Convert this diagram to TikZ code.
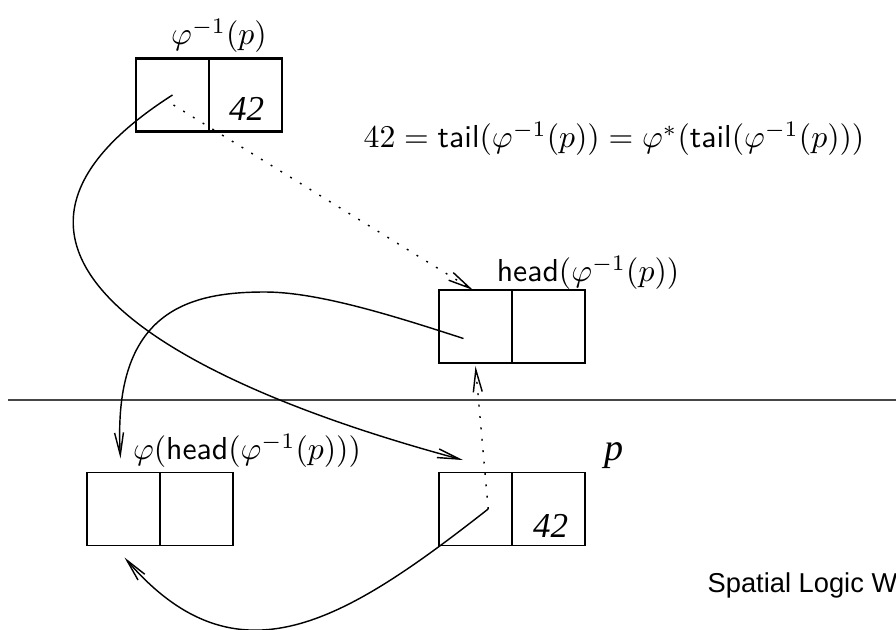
\documentclass[tikz,border=0pt]{standalone}
\usepackage{fontspec}
\newfontfamily\footfont{Liberation Sans}
\newfontfamily\numfont{Liberation Serif}
\usepackage{amsmath}
\usepackage{tikz}
\usetikzlibrary{arrows.meta,positioning}
\definecolor{sepgray}{RGB}{70,70,70}
\tikzset{
  cell/.style={draw, minimum size=23pt, inner sep=0pt, outer sep=0pt, line width=0.45pt},
  topcell/.style={cell, line width=0.65pt},
  lbl/.style={inner sep=0pt, font=\normalsize},
  num/.style={inner sep=0pt, font=\numfont\fontsize{11}{13}\selectfont\itshape},
  ptr/.style={-{Straight Barb[length=7pt,width=2.8pt]}, line width=0.45pt},
  dotptr/.style={ptr, dash pattern=on 0.6pt off 3pt}
}

\begin{document}
\begin{tikzpicture}[x=0.315pt, y=-0.315pt, node distance=0pt]
\useasboundingbox (0,0) rectangle (896,630);

% cells
\node[topcell] (inv-l) at (172.5,95) {};
\node[topcell, right=of inv-l] (inv-r) {};
\node[cell] (hd-l) at (475.5,326.5) {};
\node[cell, right=of hd-l] (hd-r) {};
\node[cell] (img-l) at (123.5,509) {};
\node[cell, right=of img-l] (img-r) {};
\node[cell] (p-l) at (475.5,509) {};
\node[cell, right=of p-l] (p-r) {};

\node[num] (inv-num) at ([shift={(1,14)}]inv-r.center) {42};
\node[num] (p-num) at ([shift={(2,17)}]p-r.center) {42};

% labels
\node[lbl] (inv-lbl) at (219,36) {$\varphi^{-1}(p)$};
\node[lbl] (eq) at (614,139) {$42=\mathsf{tail}(\varphi^{-1}(p))=\varphi^{*}(\mathsf{tail}(\varphi^{-1}(p)))$};
\node[lbl] (hd-lbl) at (588,273) {$\mathsf{head}(\varphi^{-1}(p))$};
\node[lbl] (img-lbl) at (247,451) {$\varphi(\mathsf{head}(\varphi^{-1}(p)))$};
\node[lbl, font=\numfont\fontsize{12}{14}\selectfont\itshape] (p-lbl) at (614,456) {p};
\node[anchor=base west, inner sep=0pt, font=\footfont\fontsize{8.6}{10}\selectfont] (venue) at (707,592) {Spatial Logic W};

% separator
\coordinate (sep-l) at (8,400);
\coordinate (sep-r) at (896,400);
\draw[sepgray, line width=0.6pt] (sep-l) -- (sep-r);

% pointers
\coordinate (p-in) at (463,460);
\draw[ptr] (inv-l.center) .. controls (-70,250) and (173,382) .. (p-in);
\draw[dotptr] ([shift={(1,10)}]inv-l.center) -- ([xshift=-0.8pt]hd-l.north);
\draw[ptr] ([shift={(-12,12)}]hd-l.center) .. controls (400,318) and (320,292) .. (265,292)
  .. controls (190,292) and (112,310) .. ([shift={(-3,-14)}]img-l.north);
\draw[dotptr] ([xshift=4pt]p-l.center) -- ([yshift=-1pt]hd-l.south);
\draw[ptr] ([xshift=4pt]p-l.center) .. controls (344,622) and (237,688) .. ([shift={(1,12)}]img-l.south);
\end{tikzpicture}
\end{document}
